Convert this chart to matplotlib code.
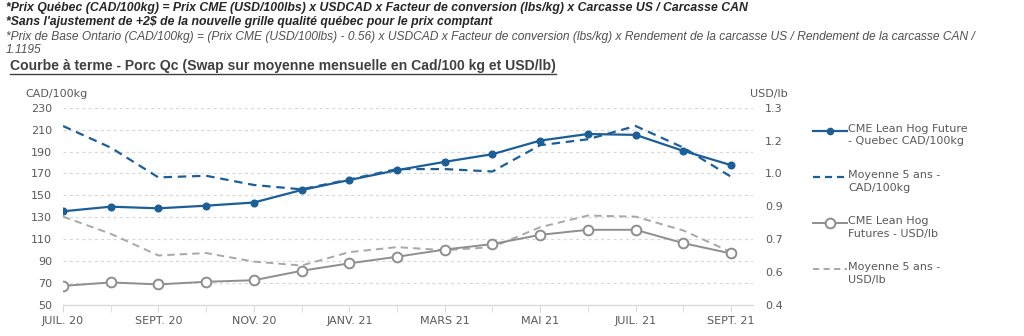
import matplotlib
matplotlib.use("Agg")
import matplotlib.pyplot as plt
from matplotlib.lines import Line2D
import numpy as np

# data
months = ['JUIL. 20', 'AOÛT 20', 'SEPT. 20', 'OCT. 20', 'NOV. 20', 'DÉC. 20',
          'JANV. 21', 'FÉVR. 21', 'MARS 21', 'AVR. 21', 'MAI 21', 'JUIN 21',
          'JUIL. 21', 'AOÛT 21', 'SEPT. 21']
quebec_cad = [135.5, 139.7, 138.2, 140.6, 143.5, 154.9, 164.0, 173.0,
              180.6, 187.6, 200.0, 206.0, 205.2, 190.6, 177.6]
avg5_cad = [213.3, 193.6, 166.4, 167.9, 159.5, 155.5, 164.5, 174.0,
            174.0, 171.8, 195.8, 201.2, 213.3, 193.6, 167.0]
cme_usd = [0.487, 0.503, 0.494, 0.506, 0.513, 0.556, 0.590, 0.620,
           0.653, 0.678, 0.720, 0.743, 0.743, 0.682, 0.635]
avg5_usd = [0.803, 0.725, 0.626, 0.637, 0.598, 0.580, 0.641, 0.664,
            0.650, 0.664, 0.755, 0.808, 0.803, 0.740, 0.641]

left_ticks = [50, 70, 90, 110, 130, 150, 170, 190, 210, 230]
right_ticks = [0.4, 0.55, 0.7, 0.85, 1.0, 1.15, 1.3]
right_labels = ['0.4', '0.6', '0.7', '0.9', '1.0', '1.2', '1.3']

legend_labels = ['CME Lean Hog Future\n- Quebec CAD/100kg',
                 'Moyenne 5 ans -\nCAD/100kg',
                 'CME Lean Hog\nFutures - USD/lb',
                 'Moyenne 5 ans -\nUSD/lb']

notes = ['*Prix Québec (CAD/100kg) = Prix CME (USD/100lbs) x USDCAD x '
         'Facteur de conversion (lbs/kg) x Carcasse US / Carcasse CAN',
         "*Sans l'ajustement de +2$ de la nouvelle grille qualité "
         "québec pour le prix comptant",
         '*Prix de Base Ontario (CAD/100kg) = (Prix CME (USD/100lbs) - 0.56) '
         'x USDCAD x Facteur de conversion (lbs/kg) x Rendement de la carcasse US / '
         'Rendement de la carcasse CAN /',
         '1.1195']
title_txt = ('Courbe à terme - Porc Qc (Swap sur moyenne mensuelle en '
             'Cad/100 kg et USD/lb)')

BLUE = '#1c5f98'
GREY = '#8e8e8e'
GREY_D = '#a8a8a8'
TXT = '#595959'
FS = 8.0

W, H = 1024, 336
fig = plt.figure(figsize=(W / 100, H / 100), dpi=100)

def fy(py):
    return 1 - py / H

# axes placement in pixels: x 63..753, y 107.7..305
ax = fig.add_axes([63 / W, fy(305), (753 - 63) / W, (305 - 107.7) / H])
ax2 = ax.twinx()

x = np.arange(len(months))
ax.plot(x, quebec_cad, color=BLUE, lw=1.6, marker='o', ms=4.8, zorder=4)
ax.plot(x, avg5_cad, color=BLUE, lw=1.6, dashes=(3.8, 2.6), zorder=3)
ax2.plot(x, cme_usd, color=GREY, lw=1.4, marker='o', ms=7, mfc='white',
         mec=GREY, mew=1.4, zorder=4)
ax2.plot(x, avg5_usd, color=GREY_D, lw=1.4, dashes=(3.8, 2.6), zorder=3)

ax.set_xlim(0, 14.46)
ax.set_ylim(50, 230)
ax2.set_ylim(0.4, 1.3)

ax.set_yticks(left_ticks)
ax.yaxis.grid(True, color='#d9d9d9', lw=0.9, dashes=(2.5, 2.5))
ax.set_axisbelow(True)
ax2.set_yticks(right_ticks)
ax2.set_yticklabels(right_labels)

ax.set_xticks(x, minor=True)
ax.set_xticks(x[::2])
ax.set_xticklabels(months[::2])

for a in (ax, ax2):
    for s in ('top', 'left', 'right'):
        a.spines[s].set_visible(False)
    a.spines['bottom'].set_color('#d9d9d9')
    a.tick_params(axis='y', length=0, labelsize=FS, labelcolor=TXT)
ax.tick_params(axis='y', pad=8)
ax2.tick_params(axis='y', pad=8.5)
ax.tick_params(axis='x', which='both', length=5, color='#d9d9d9',
               labelsize=FS, labelcolor=TXT, pad=3)

fig.text(25 / W, fy(94), 'CAD/100kg', fontsize=FS, color=TXT, va='center')
fig.text(750 / W, fy(94), 'USD/lb', fontsize=FS, color=TXT, va='center')

# legend drawn by hand so the key sits on the first text line
leg_y = [130.7, 177.3, 223.3, 269.3]
styles = [dict(color=BLUE, lw=1.6, marker='o', ms=4.5, markevery=[1]),
          dict(color=BLUE, lw=1.6, dashes=(3.2, 2.2)),
          dict(color=GREY, lw=1.4, marker='o', ms=7, mfc='white', mec=GREY,
               mew=1.4, markevery=[1]),
          dict(color=GREY_D, lw=1.4, dashes=(3.2, 2.2))]
for py, lab, st in zip(leg_y, legend_labels, styles):
    fig.add_artist(Line2D([813 / W, 830 / W, 847 / W], [fy(py)] * 3, **st))
    fig.text(848 / W, fy(py - 7), lab, fontsize=FS, color=TXT, va='top',
             linespacing=1.3)

# header notes, each squeezed to the width it takes in the reference
hfam = ['Liberation Sans', 'DejaVu Sans']
note_y = [8, 22, 37, 50]
note_kw = [dict(fontweight='bold', color='#262626'),
           dict(fontweight='bold', color='#262626'),
           dict(color='#505050'),
           dict(color='#505050')]
heads = []
for t, py, kw in zip(notes, note_y, note_kw):
    heads.append(fig.text(6 / W, fy(py), t, family=hfam, fontsize=9.6,
                          style='italic', va='center', **kw))
title = fig.text(10 / W, fy(66), title_txt, family=hfam, fontsize=11,
                 fontweight='bold', color='#404040', va='center')

fig.canvas.draw()
r = fig.canvas.get_renderer()
for t, end in zip(heads[:3] + [title], [753, 497, 985, 556]):
    bb = t.get_window_extent(r)
    t.set_fontsize(t.get_fontsize() * (end - bb.x0) / bb.width)
heads[3].set_fontsize(heads[2].get_fontsize())

fig.canvas.draw()
bb = title.get_window_extent(r)
fig.add_artist(Line2D([bb.x0 / W, bb.x1 / W], [(bb.y0 - 1) / H] * 2,
                      color='#404040', lw=1.0))

fig.savefig('out.png', dpi=100)
